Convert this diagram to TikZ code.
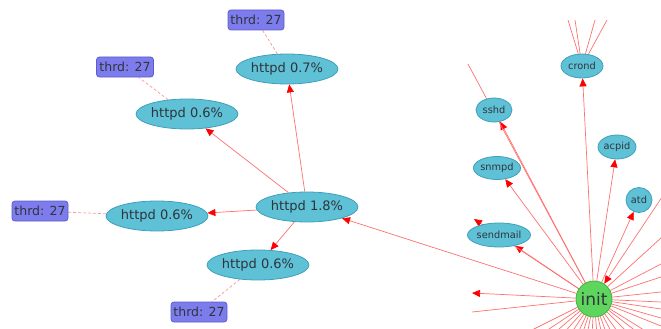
\documentclass[tikz,border=0pt]{standalone}
\usepackage{fontspec}
\setmainfont{DejaVu Sans}
\usetikzlibrary{arrows.meta,shapes.geometric}
\definecolor{procfill}{RGB}{94,193,214}
\definecolor{procborder}{RGB}{62,160,186}
\definecolor{thrdfill}{RGB}{124,124,236}
\definecolor{thrdborder}{RGB}{92,92,206}
\definecolor{initfill}{RGB}{94,214,94}
\definecolor{initborder}{RGB}{62,178,62}
\definecolor{txt}{RGB}{48,52,60}
\definecolor{edgecol}{RGB}{255,112,112}
\definecolor{dashcol}{RGB}{255,150,150}
\pgfdeclarelayer{bg}
\pgfsetlayers{bg,main}
\tikzset{
  proc/.style={ellipse, draw=procborder, fill=procfill, line width=0.8pt, inner sep=0pt, text=txt},
  bigproc/.style={proc, minimum width=88pt, minimum height=30pt, font=\fontsize{13}{13}\selectfont},
  smallproc/.style={proc, font=\fontsize{9.8}{10}\selectfont},
  thrdbox/.style={rectangle, rounded corners=3pt, draw=thrdborder, fill=thrdfill, line width=0.8pt,
    minimum width=56pt, minimum height=20pt, inner sep=0pt, text=txt, font=\fontsize{12.5}{12.5}\selectfont},
  initnode/.style={circle, draw=initborder, fill=initfill, line width=0.8pt, minimum size=36pt, inner sep=0pt,
    text=txt, font=\fontsize{17}{17}\selectfont},
  edgeline/.style={draw=edgecol, line width=0.7pt},
  arr/.style={edgeline, -{Triangle[length=8pt,width=7pt,color=red]}},
  thrdlink/.style={draw=dashcol, line width=0.7pt, dash pattern=on 3pt off 2pt},
}
\begin{document}
\begin{tikzpicture}[x=1pt,y=-1pt]
\useasboundingbox (0,0) rectangle (661,329);
\begin{scope}
\clip (0,0) rectangle (661,329);
% httpd cluster
\node[bigproc] (h07) at (287,69) {httpd 0.7\%};
\node[bigproc] (h06a) at (187,114) {httpd 0.6\%};
\node[bigproc, minimum width=93pt] (h18) at (307,207) {httpd 1.8\%};
\node[bigproc] (h06b) at (157,216) {httpd 0.6\%};
\node[bigproc] (h06c) at (258,265) {httpd 0.6\%};
\node[thrdbox] (t1) at (256,20) {thrd: 27};
\node[thrdbox, minimum width=57pt] (t2) at (125,67) {thrd: 27};
\node[thrdbox] (t3) at (40,211) {thrd: 27};
\node[thrdbox] (t4) at (199,312) {thrd: 27};
% init cluster
\node[smallproc, minimum width=42pt, minimum height=24pt] (crond) at (582,66) {crond};
\node[smallproc, minimum width=36pt, minimum height=24pt] (sshd) at (494,110) {sshd};
\node[smallproc, minimum width=38pt, minimum height=24pt] (acpid) at (617,147) {acpid};
\node[smallproc, minimum width=46pt, minimum height=23pt] (snmpd) at (497,168) {snmpd};
\node[smallproc, minimum width=26pt, minimum height=25pt] (atd) at (639,200) {atd};
\node[smallproc, minimum width=57pt, minimum height=24pt] (sendmail) at (499,235) {sendmail};
\node[initnode] (init) at (594,299) {init};
% free ends
\coordinate (x1) at (474,219);
\coordinate (x2) at (468,64);
\coordinate (x3) at (472,293);
\coordinate (x4) at (472,312);
\coordinate (x5) at (668,188);
\coordinate (c1) at (568,20);
\coordinate (c2) at (575,20);
\coordinate (c3) at (595,20);
\coordinate (c4) at (607,20);
\end{scope}
\begin{pgfonlayer}{bg}
\begin{scope}
\clip (0,0) rectangle (661,329);
\draw[arr] (h18) -- (h07);
\draw[arr] (h18) -- (h06a);
\draw[arr] (h18) -- (h06b);
\draw[arr] (h18) -- (h06c);
\draw[arr] (init) -- (h18);
\draw[thrdlink] (h07) -- (t1);
\draw[thrdlink] (h06a) -- (t2);
\draw[thrdlink] (h06b) -- (t3);
\draw[thrdlink] (h06c) -- (t4);
\draw[arr] (init) -- (crond);
\draw[arr] (init) -- (sshd);
\draw[arr] (init) -- (acpid);
\draw[arr] (init) -- (snmpd);
\draw[arr] (init) -- (atd);
\draw[arr] (init) -- (sendmail);
\draw[arr] (init) -- (x1);
\draw[edgeline] (init) -- (x2);
\draw[arr] (init) -- (x3);
\draw[edgeline] (init) -- (x4);
\draw[arr] (x5) -- (init);
\draw[edgeline] (crond) -- (c1);
\draw[edgeline] (crond) -- (c2);
\draw[edgeline] (crond) -- (c3);
\draw[edgeline] (crond) -- (c4);
\foreach \px/\py in {661/238, 661/264, 661/277, 661/292, 661/302, 661/309, 661/318, 661/326,
  522/335, 540/335, 552/335, 562/335, 570/335, 577/335, 582/335, 587/335, 592/335, 597/335,
  602/335, 607/335, 613/335, 620/335, 630/335, 641/335, 652/335}
  \draw[edgeline] (init) -- (\px,\py);
\end{scope}
\end{pgfonlayer}
\end{tikzpicture}
\end{document}
